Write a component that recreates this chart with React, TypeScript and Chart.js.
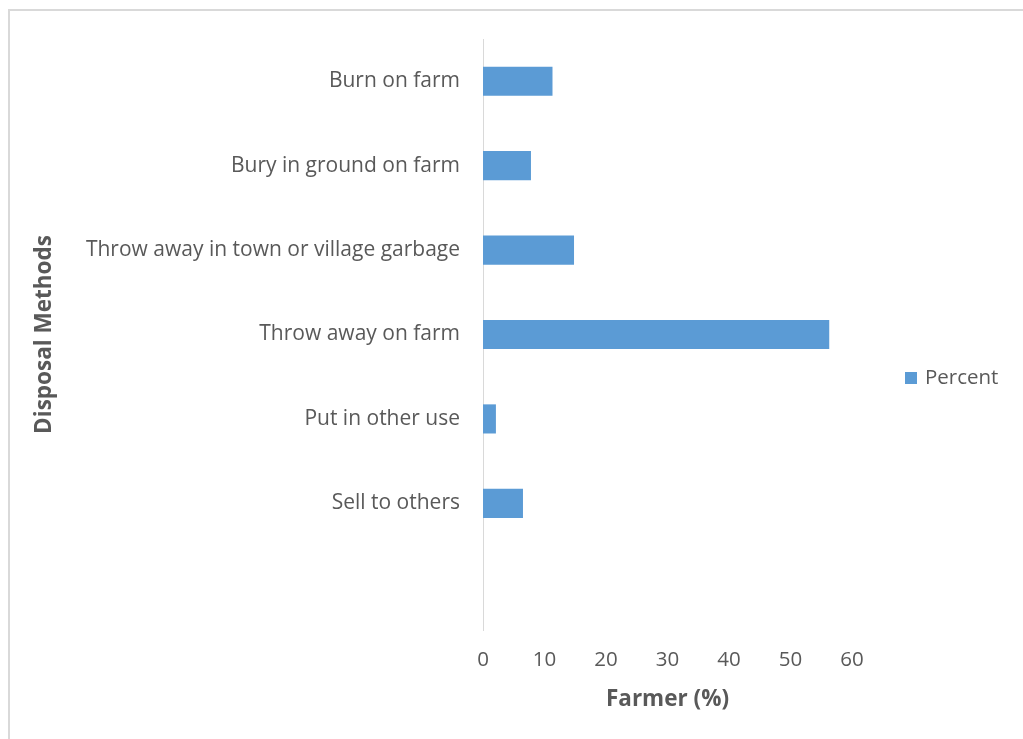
import React, { useEffect, useRef } from "react";
import { Chart, registerables } from "chart.js";

Chart.register(...registerables);

const categories = [
  "Burn on farm",
  "Bury in ground on farm",
  "Throw away in town or village garbage",
  "Throw away on farm",
  "Put in other use",
  "Sell to others",
  "",
];
const percentValues: (number | null)[] = [11.3, 7.8, 14.8, 56.3, 2.1, 6.5, null];
const seriesLabel = "Percent";
const xTicks = [0, 10, 20, 30, 40, 50, 60];
const xTitle = "Farmer (%)";
const yTitle = "Disposal Methods";

const FONT = "'Open Sans', 'Noto Sans', sans-serif";
const TEXT = "#595959";
const BAR = "#5B9BD5";

const legendPlugin = {
  id: "customLegend",
  afterDraw(chart: any) {
    const ctx = chart.ctx;
    const ds = chart.data.datasets[0];
    ctx.save();
    ctx.fillStyle = ds.backgroundColor;
    ctx.fillRect(905, 372, 12, 12);
    ctx.fillStyle = TEXT;
    ctx.font = `20.5px ${FONT}`;
    ctx.textBaseline = "middle";
    ctx.textAlign = "left";
    ctx.fillText(ds.label, 925, 378);
    ctx.restore();
  },
};

export default function App() {
  const ref = useRef<HTMLCanvasElement>(null);
  useEffect(() => {
    if (!ref.current) return;
    const chart = new Chart(ref.current, {
      type: "bar",
      data: {
        labels: categories,
        datasets: [
          {
            label: seriesLabel,
            data: percentValues,
            backgroundColor: BAR,
            borderWidth: 0,
            categoryPercentage: 1,
            barPercentage: 0.345,
          },
        ],
      },
      options: {
        indexAxis: "y",
        animation: false,
        responsive: false,
        maintainAspectRatio: false,
        layout: { padding: { left: 0, top: 39, right: 171, bottom: 9 } },
        plugins: {
          legend: { display: false },
          tooltip: { enabled: false },
        },
        scales: {
          x: {
            min: 0,
            max: 60,
            afterBuildTicks: (s: any) => {
              s.ticks = xTicks.map((v) => ({ value: v }));
            },
            afterFit: (s: any) => {
              s.height = 100;
            },
            grid: { display: false, drawTicks: false },
            border: { display: false },
            ticks: {
              color: TEXT,
              font: { family: FONT, size: 20.5 },
              padding: 18,
            },
            title: {
              display: true,
              text: xTitle,
              color: TEXT,
              font: { family: FONT, size: 22.5, weight: "bold" },
              padding: { top: 0, bottom: 16.5 },
            },
          },
          y: {
            afterFit: (s: any) => {
              s.width = 483;
            },
            grid: { display: false, drawTicks: false },
            border: { display: true, color: "#d9d9d9", width: 1 },
            ticks: {
              color: TEXT,
              font: { family: FONT, size: 21 },
              padding: 23,
              autoSkip: false,
            },
            title: {
              display: true,
              text: yTitle,
              color: TEXT,
              font: { family: FONT, size: 22.5, weight: "bold" },
              padding: { top: 31.5, bottom: 0 },
            },
          },
        },
      },
      plugins: [legendPlugin],
    });
    return () => chart.destroy();
  }, []);

  return (
    <div style={{ position: "absolute", left: 0, top: 0, width: 1023, height: 739, background: "#fff", overflow: "hidden" }}>
      <canvas ref={ref} width={1023} height={739} style={{ position: "absolute", left: 0, top: 0 }} />
      <div
        style={{
          position: "absolute",
          left: 8,
          top: 9,
          width: 1030,
          height: 740,
          borderLeft: "2px solid #d9d9d9",
          borderTop: "2px solid #d9d9d9",
          pointerEvents: "none",
        }}
      />
    </div>
  );
}
